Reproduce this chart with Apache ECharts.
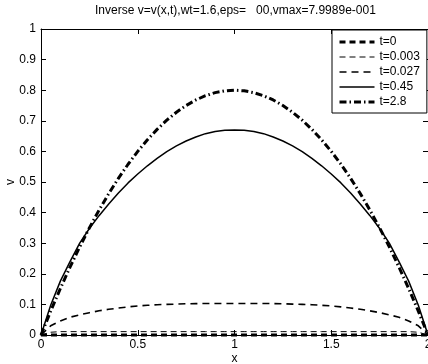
<!DOCTYPE html>
<html>
<head>
<meta charset="utf-8">
<script src="https://cdn.jsdelivr.net/npm/echarts@6/dist/echarts.min.js"></script>
<style>
html,body{margin:0;padding:0;background:#fff;}
#chart{width:428px;height:364px;}
</style>
</head>
<body>
<div id="chart"></div>
<script>
var xs = [0,0.05,0.1,0.15,0.2,0.25,0.3,0.35,0.4,0.45,0.5,0.55,0.6,0.65,0.7,0.75,0.8,0.85,0.9,0.95,1,
          1.05,1.1,1.15,1.2,1.25,1.3,1.35,1.4,1.45,1.5,1.55,1.6,1.65,1.7,1.75,1.8,1.85,1.9,1.95,2];
var seriesNames = ['t=0','t=0.003','t=0.027','t=0.45','t=2.8'];
var v_t0 = [0,0,0,0,0,0,0,0,0,0,0,0,0,0,0,0,0,0,0,0,0,0,0,0,0,0,0,0,0,0,0,0,0,0,0,0,0,0,0,0,0];
var v_t0003 = [0,0.009,0.011,0.011,0.011,0.011,0.011,0.011,0.011,0.011,0.011,0.011,0.011,0.011,0.011,0.011,0.011,0.011,0.011,0.011,0.011,
               0.011,0.011,0.011,0.011,0.011,0.011,0.011,0.011,0.011,0.011,0.011,0.011,0.011,0.011,0.011,0.011,0.011,0.011,0.009,0];
var v_t0027 = [0,0.030,0.046,0.058,0.066,0.073,0.079,0.084,0.088,0.092,0.095,0.097,0.099,0.100,0.101,0.102,0.1025,0.103,0.103,0.103,0.103,
               0.103,0.103,0.103,0.1025,0.102,0.101,0.100,0.099,0.097,0.095,0.092,0.088,0.084,0.079,0.073,0.066,0.058,0.046,0.030,0];
var v_t045 = [0,0.097,0.176,0.240,0.300,0.348,0.390,0.428,0.464,0.497,0.526,0.553,0.577,0.599,0.618,0.634,0.647,0.658,0.665,0.669,0.670,
              0.669,0.665,0.658,0.647,0.634,0.618,0.599,0.577,0.553,0.526,0.497,0.464,0.428,0.390,0.348,0.300,0.240,0.176,0.097,0];
var v_t28 = [0,0.078,0.152,0.222,0.288,0.350,0.408,0.462,0.512,0.558,0.600,0.638,0.672,0.702,0.728,0.750,0.768,0.782,0.792,0.798,0.800,
             0.798,0.792,0.782,0.768,0.750,0.728,0.702,0.672,0.638,0.600,0.558,0.512,0.462,0.408,0.350,0.288,0.222,0.152,0.078,0];
var xTicks = [0,0.5,1,1.5,2];
var yTicks = [0,0.1,0.2,0.3,0.4,0.5,0.6,0.7,0.8,0.9,1];
var titleText = 'Inverse v=v(x,t),wt=1.6,eps=   00,vmax=7.9989e-001';

var font = 'Liberation Sans';
function pts(arr){ return xs.map(function(x,i){ return [x, arr[i]]; }); }
var allVals = [v_t0, v_t0003, v_t0027, v_t045, v_t28];
var styles = [
  {width:3, type:[6,4]},
  {width:1, type:[6,4]},
  {width:1.6, type:[7,5]},
  {width:1.5, type:'solid'},
  {width:3, type:[7,3,1.5,3]}
];
var chart = echarts.init(document.getElementById('chart'), null, {renderer:'canvas'});
function axisBase(extra){
  var o = {
    type:'value',
    axisLine:{show:true, onZero:false, lineStyle:{color:'#000', width:1}},
    axisTick:{show:true, inside:true, length:5, lineStyle:{color:'#000', width:1}},
    splitLine:{show:false},
    nameMoveOverlap:false
  };
  for (var k in extra) o[k] = extra[k];
  return o;
}
chart.setOption({
  animation:false,
  backgroundColor:'#fff',
  title:{text:titleText, left:95, top:5, padding:0, textStyle:{fontFamily:font, fontSize:12, fontWeight:'normal', color:'#000'}},
  grid:{left:41, right:0, top:29, bottom:29, containLabel:false, outerBoundsMode:'none'},
  legend:{
    data:seriesNames.map(function(n,i){
      return {name:n, lineStyle:{width:styles[i].width, type:styles[i].type, color:'#000'}};
    }),
    orient:'vertical', left:332, top:30,
    padding:[6,7,5,6], itemGap:3, itemWidth:35, itemHeight:12,
    borderColor:'#000', borderWidth:1, backgroundColor:'#fff',
    itemStyle:{opacity:0, color:'transparent', borderWidth:0},
    textStyle:{fontFamily:font, fontSize:12, color:'#000'}
  },
  xAxis:[
    axisBase({position:'bottom', min:0, max:2, interval:0.5,
      name:'x', nameLocation:'middle', nameGap:18, nameTextStyle:{fontFamily:font, fontSize:12, color:'#000'},
      axisLabel:{fontFamily:font, fontSize:12, color:'#000', margin:4,
        formatter:function(v){ return xTicks.indexOf(v)>=0 ? String(v) : ''; }}}),
    axisBase({position:'top', min:0, max:2, interval:0.5, axisLabel:{show:false}})
  ],
  yAxis:[
    axisBase({position:'left', min:0, max:1, interval:0.1,
      name:'v', nameLocation:'middle', nameGap:24, nameTextStyle:{fontFamily:font, fontSize:12, color:'#000'},
      axisLabel:{fontFamily:font, fontSize:12, color:'#000', margin:5,
        formatter:function(v){ var r=Math.round(v*10)/10; return yTicks.indexOf(r)>=0 ? String(r) : ''; }}}),
    axisBase({position:'right', min:0, max:1, interval:0.1, axisLabel:{show:false}})
  ],
  series: seriesNames.map(function(n,i){
    return {
      name:n, type:'line', xAxisIndex:0, yAxisIndex:0, data:pts(allVals[i]),
      showSymbol:false, symbol:'none', smooth:false, clip:false,
      lineStyle:{color:'#000', width:styles[i].width, type:styles[i].type},
      itemStyle:{color:'#000'}
    };
  })
});
</script>
</body>
</html>
